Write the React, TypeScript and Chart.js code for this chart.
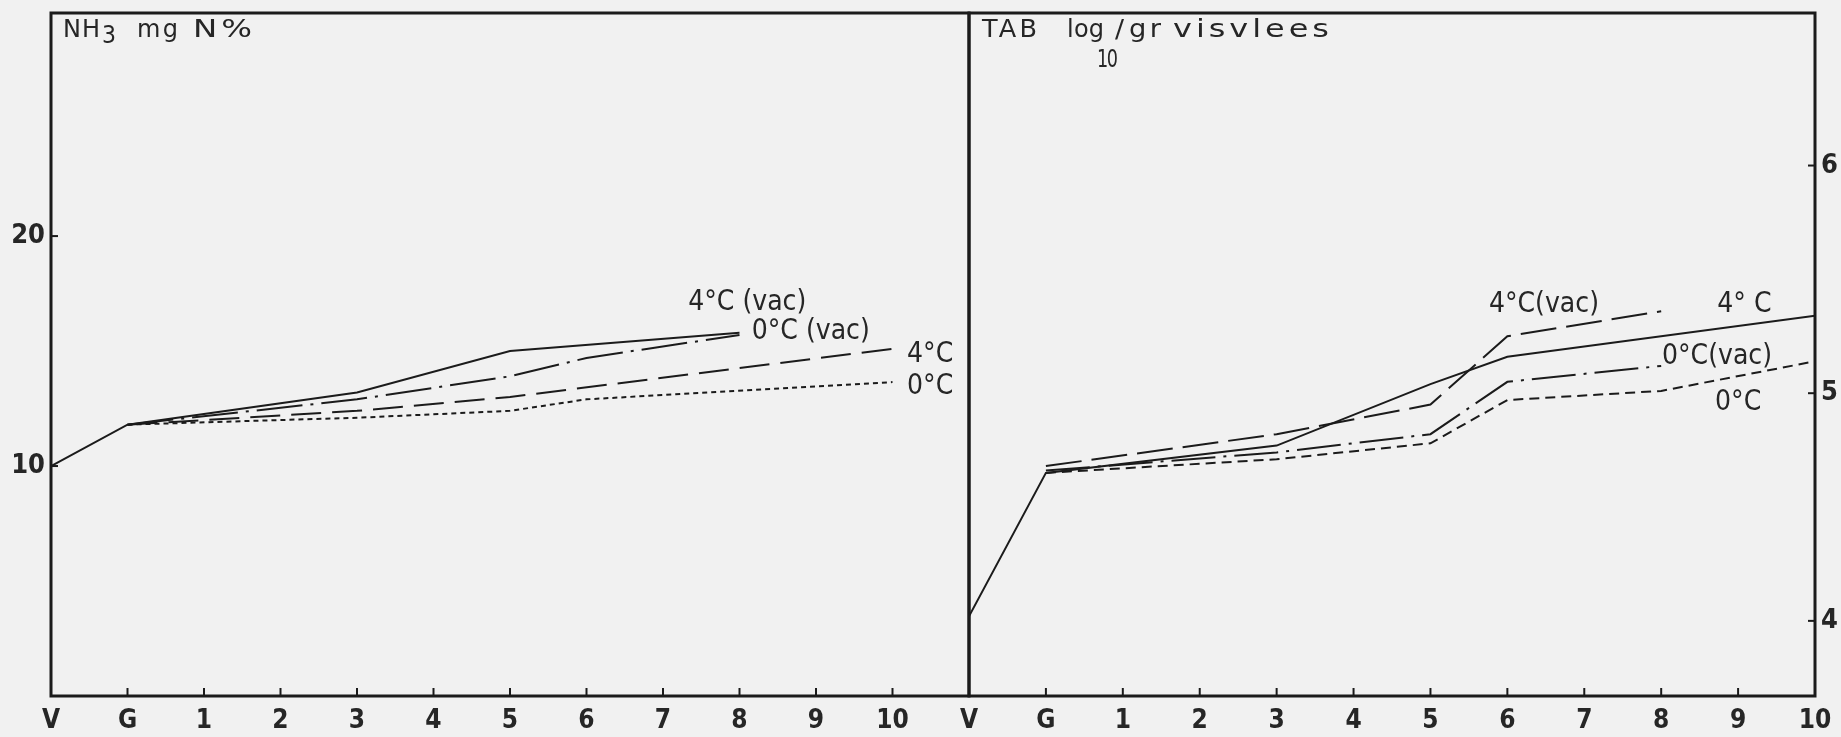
import React, { useEffect, useRef } from 'react';
import { Chart, registerables } from 'chart.js';

Chart.register(...registerables);

// ---------- data ----------
const xLabels = ['V', 'G', '1', '2', '3', '4', '5', '6', '7', '8', '9', '10'];

// Left panel: NH3 mg N%
const nh3Vac4Days = ['V', 'G', '3', '5', '8'];
const nh3Vac4Values = [10.0, 11.8, 13.2, 15.0, 15.8];
const nh3Vac0Days = ['G', '3', '5', '6', '8'];
const nh3Vac0Values = [11.8, 12.9, 13.9, 14.7, 15.7];
const nh3Air4Days = ['G', '3', '5', '10'];
const nh3Air4Values = [11.8, 12.4, 13.0, 15.1];
const nh3Air0Days = ['G', '3', '5', '6', '10'];
const nh3Air0Values = [11.8, 12.1, 12.4, 12.9, 13.65];
const nh3YTicks = [10, 20];

// Right panel: TAB log10 / gr visvlees
const tabAir4Days = ['V', 'G', '3', '5', '6', '10'];
const tabAir4Values = [4.02, 4.65, 4.77, 5.04, 5.16, 5.34];
const tabVac4Days = ['G', '3', '5', '6', '8'];
const tabVac4Values = [4.68, 4.82, 4.95, 5.25, 5.36];
const tabVac0Days = ['G', '3', '5', '6', '8'];
const tabVac0Values = [4.66, 4.74, 4.82, 5.05, 5.12];
const tabAir0Days = ['G', '3', '5', '6', '8', '10'];
const tabAir0Values = [4.65, 4.71, 4.78, 4.97, 5.01, 5.14];
const tabYTicks = [4, 5, 6];

const seriesNames = ['4°C (vac)', '0°C (vac)', '4°C', '0°C'];
const tabSeriesNames = ['4°C(vac)', '0°C(vac)', '4° C', '0°C'];

// ---------- style ----------
const INK = '#1b1b1b';
const TEXT = '#262626';
const FONT = '"DejaVu Sans Condensed", "Liberation Sans Narrow", "DejaVu Sans", sans-serif';
const WIDE = '"DejaVu Sans", "Noto Sans", sans-serif';
const H = 737;

const toPoints = (days: string[], vals: number[]) =>
  days.map((d, i) => ({ x: xLabels.indexOf(d), y: vals[i] }));

const lineDs = (label: string, days: string[], vals: number[], dash: number[]) => ({
  label,
  data: toPoints(days, vals),
  borderColor: INK,
  borderWidth: 2,
  borderDash: dash,
  pointRadius: 0,
  tension: 0,
  fill: false,
});

const decorPlugin = {
  id: 'decor',
  afterDatasetsDraw(chart: any, _args: any, opts: any) {
    const { ctx, chartArea: a, scales } = chart;
    const xs = scales.x;
    const ys = scales.y;
    ctx.save();
    // frame
    ctx.strokeStyle = INK;
    ctx.lineWidth = 3;
    ctx.strokeRect(a.left, a.top, a.right - a.left, a.bottom - a.top);
    // inner tick marks
    ctx.lineWidth = 2;
    xs.ticks.forEach((t: any) => {
      if (t.value > xs.min && t.value < xs.max) {
        const px = xs.getPixelForValue(t.value);
        ctx.beginPath();
        ctx.moveTo(px, a.bottom);
        ctx.lineTo(px, a.bottom - 8);
        ctx.stroke();
      }
    });
    ys.ticks.forEach((t: any) => {
      const py = ys.getPixelForValue(t.value);
      const x0 = ys.position === 'right' ? a.right : a.left;
      const dir = ys.position === 'right' ? -1 : 1;
      ctx.beginPath();
      ctx.moveTo(x0, py);
      ctx.lineTo(x0 + dir * 7, py);
      ctx.stroke();
    });
    // series labels
    ctx.fillStyle = TEXT;
    ctx.font = `28px ${FONT}`;
    ctx.textBaseline = 'middle';
    ctx.textAlign = 'left';
    (opts.labels || []).forEach((l: any) => {
      ctx.fillText(l.text, xs.getPixelForValue(l.x), ys.getPixelForValue(l.y));
    });
    // title: wide, slightly spaced typewritten lettering
    ctx.font = `24px ${WIDE}`;
    ctx.textBaseline = 'alphabetic';
    (opts.title || []).forEach((seg: any) => {
      const n = Array.from(seg.t as string).length;
      (ctx as any).letterSpacing = '0px';
      const w0 = ctx.measureText(seg.t).width || 1;
      let ls = n > 1 ? (seg.w - w0) / (n - 1) : 0;
      ls = Math.max(-2, Math.min(3, ls));
      (ctx as any).letterSpacing = `${ls}px`;
      const w1 = w0 + ls * (n - 1);
      const sx = Math.max(0.65, Math.min(1.35, seg.w / w1));
      ctx.save();
      ctx.translate(a.left + seg.dx, a.top + 24 + (seg.dy || 0));
      ctx.scale(sx, 1);
      ctx.fillText(seg.t, 0, 0);
      ctx.restore();
    });
    (ctx as any).letterSpacing = '0px';
    ctx.restore();
  },
};

const tickFont = { family: FONT, size: 26, weight: 'bold' as const };
const yFont = { family: FONT, size: 27, weight: 'bold' as const };

const xScale = (max: number) => ({
  type: 'linear',
  min: 0,
  max,
  afterBuildTicks: (s: any) => {
    s.ticks = xLabels.map((_, i) => ({ value: i }));
  },
  afterFit: (s: any) => {
    s.height = 41;
    s.paddingLeft = 0;
    s.paddingRight = 0;
  },
  ticks: {
    callback: (v: number) => xLabels[v] ?? '',
    font: tickFont,
    color: TEXT,
    padding: 10,
    autoSkip: false,
    maxRotation: 0,
  },
  grid: { display: false, drawTicks: false },
  border: { display: false },
});

function leftConfig(): any {
  return {
    type: 'line',
    data: {
      datasets: [
        lineDs(seriesNames[0], nh3Vac4Days, nh3Vac4Values, []),
        lineDs(seriesNames[1], nh3Vac0Days, nh3Vac0Values, [46, 8, 3, 8]),
        lineDs(seriesNames[2], nh3Air4Days, nh3Air4Values, [30, 11]),
        lineDs(seriesNames[3], nh3Air0Days, nh3Air0Values, [5, 4]),
      ],
    },
    options: {
      animation: false,
      responsive: false,
      layout: { padding: { top: 13, right: 31, left: 0, bottom: 0 } },
      plugins: {
        legend: { display: false },
        tooltip: { enabled: false },
        decor: {
          title: [
            { t: 'NH', dx: 12, w: 37 },
            { t: '3', dx: 51, dy: 6, w: 14 },
            { t: 'mg', dx: 86, w: 41 },
            { t: 'N%', dx: 142, w: 60 },
          ],
          labels: [
            { text: seriesNames[0], x: 8.33, y: 17.1 },
            { text: seriesNames[1], x: 9.16, y: 15.85 },
            { text: seriesNames[2], x: 11.19, y: 14.85 },
            { text: seriesNames[3], x: 11.19, y: 13.45 },
          ],
        },
      },
      scales: {
        x: xScale(12),
        y: {
          type: 'linear',
          min: 0,
          max: 29.7,
          afterBuildTicks: (s: any) => {
            s.ticks = nh3YTicks.map((v) => ({ value: v }));
          },
          afterFit: (s: any) => {
            s.width = 51;
            s.paddingTop = 0;
            s.paddingBottom = 0;
          },
          ticks: { font: yFont, color: TEXT, padding: 6 },
          grid: { display: false, drawTicks: false },
          border: { display: false },
        },
      },
    },
    plugins: [decorPlugin],
  };
}

function rightConfig(): any {
  return {
    type: 'line',
    data: {
      datasets: [
        lineDs(tabSeriesNames[2], tabAir4Days, tabAir4Values, []),
        lineDs(tabSeriesNames[0], tabVac4Days, tabVac4Values, [36, 10]),
        lineDs(tabSeriesNames[1], tabVac0Days, tabVac0Values, [44, 8, 3, 8]),
        lineDs(tabSeriesNames[3], tabAir0Days, tabAir0Values, [10, 6]),
      ],
    },
    options: {
      animation: false,
      responsive: false,
      layout: { padding: { top: 13, right: 0, left: 29, bottom: 0 } },
      plugins: {
        legend: { display: false },
        tooltip: { enabled: false },
        decor: {
          title: [
            { t: 'TAB', dx: 13, w: 55 },
            { t: 'log', dx: 98, w: 37 },
            { t: '10', dx: 128, dy: 30, w: 21 },
            { t: '/', dx: 146, w: 9 },
            { t: 'gr', dx: 160, w: 32 },
            { t: 'visvlees', dx: 204, w: 156 },
          ],
          labels: [
            { text: tabSeriesNames[0], x: 6.76, y: 5.39 },
            { text: tabSeriesNames[2], x: 9.73, y: 5.39 },
            { text: tabSeriesNames[1], x: 9.01, y: 5.16 },
            { text: tabSeriesNames[3], x: 9.7, y: 4.96 },
          ],
        },
      },
      scales: {
        x: xScale(11),
        y: {
          type: 'linear',
          position: 'right',
          min: 3.67,
          max: 6.67,
          afterBuildTicks: (s: any) => {
            s.ticks = tabYTicks.map((v) => ({ value: v }));
          },
          afterFit: (s: any) => {
            s.width = 26;
            s.paddingTop = 0;
            s.paddingBottom = 0;
          },
          ticks: { font: yFont, color: TEXT, padding: 6 },
          grid: { display: false, drawTicks: false },
          border: { display: false },
        },
      },
    },
    plugins: [decorPlugin],
  };
}

function Panel({ left, width, makeConfig }: { left: number; width: number; makeConfig: () => any }) {
  const ref = useRef<HTMLCanvasElement | null>(null);
  useEffect(() => {
    if (!ref.current) return;
    const chart = new Chart(ref.current, makeConfig());
    return () => chart.destroy();
  }, []);
  return (
    <canvas
      ref={ref}
      width={width}
      height={H}
      style={{ position: 'absolute', left, top: 0, width, height: H }}
    />
  );
}

export default function App() {
  return (
    <div
      style={{
        position: 'absolute',
        left: 0,
        top: 0,
        width: 1841,
        height: H,
        background: '#f1f1f1',
        overflow: 'hidden',
      }}
    >
      <Panel left={0} width={1000} makeConfig={leftConfig} />
      <Panel left={940} width={901} makeConfig={rightConfig} />
    </div>
  );
}
